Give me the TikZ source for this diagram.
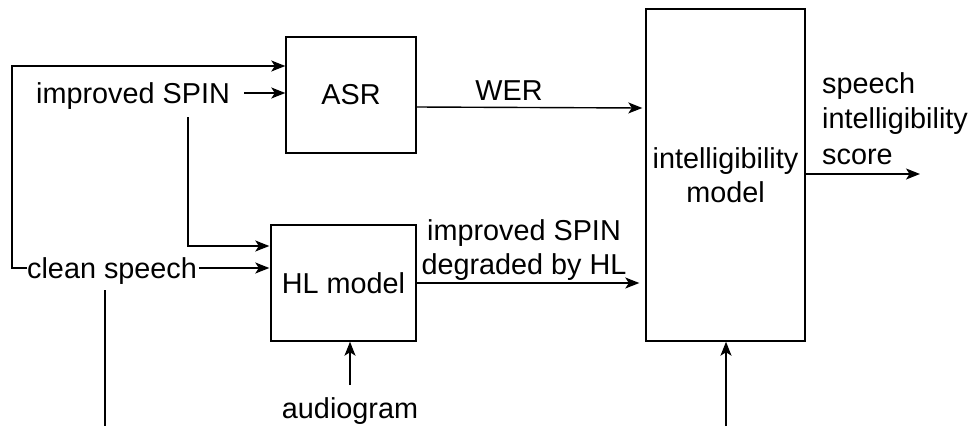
\documentclass[tikz,border=0pt]{standalone}
\usepackage{fontspec}
\setmainfont{Liberation Sans}
\usetikzlibrary{arrows.meta}
\begin{document}
\begin{tikzpicture}[x=1pt,y=-1pt,
  every node/.style={font=\fontsize{28.8}{34}\selectfont, inner sep=0pt},
  block/.style={draw=black, line width=1.4pt, rectangle},
  lbl/.style={align=center},
  wire/.style={line width=1.4pt},
  arr/.style={wire, -{Stealth[length=14pt,width=11pt,inset=3.5pt]}}]
\useasboundingbox (0,0) rectangle (971,426);

% processing blocks
\node[block, minimum width=130pt, minimum height=116pt] (asr) at (351,95) {ASR};
\node[block, minimum width=145pt, minimum height=116pt] (hl) at (343.5,283) {HL model};
\node[block, minimum width=159pt, minimum height=332pt, align=center] (im) at (725.5,175)
  {intelligibility\\model};

% signal labels
\node[anchor=base west] (isp) at (36,103) {improved SPIN};
\node[anchor=base west] (cs) at (27,278) {clean speech};
\node[anchor=base] (ag) at (350,418) {audiogram};
\node[anchor=base] (wer) at (509,100) {WER};
\node[lbl] (deg) at (524,250) {improved SPIN\\degraded by HL};
\node[align=left, anchor=north west, font=\fontsize{28.8}{35.5}\selectfont] (sis) at (822,72)
  {speech\\intelligibility\\score};

% helper points
\coordinate (lft) at (12,268);
\coordinate (top) at (12,66);
\coordinate (ispdown) at (188,117);
\coordinate (ispturn) at (188,246);
\coordinate (csdown) at (105,290);
\coordinate (csend) at (105,426);
\coordinate (out) at (920,174);
\coordinate (imin) at (726,426);

% connectors
\draw[arr] (cs.west |- lft) -- (lft) -- (top) -- (asr.west |- top);
\draw[arr] ([xshift=14pt]isp.east |- 0,93) -- (asr.west |- 0,93);
\draw[arr] (ispdown) -- (ispturn) -- ([xshift=-1pt]hl.west |- ispturn);
\draw[arr] ([xshift=2pt]cs.east |- 0,268) -- ([xshift=-1pt]hl.west |- 0,268);
\draw[wire] (csdown) -- (csend);
\draw[arr] (asr.east |- 0,107) -- ([xshift=-3pt]im.west |- 0,108);
\draw[arr] (hl.east |- 0,283) -- ([xshift=-6pt]im.west |- 0,283);
\draw[arr] (ag.north |- 0,385) -- (ag.north |- hl.south);
\draw[arr] (im.east |- out) -- (out);
\draw[arr] (imin) -- (imin |- im.south);
\end{tikzpicture}
\end{document}
